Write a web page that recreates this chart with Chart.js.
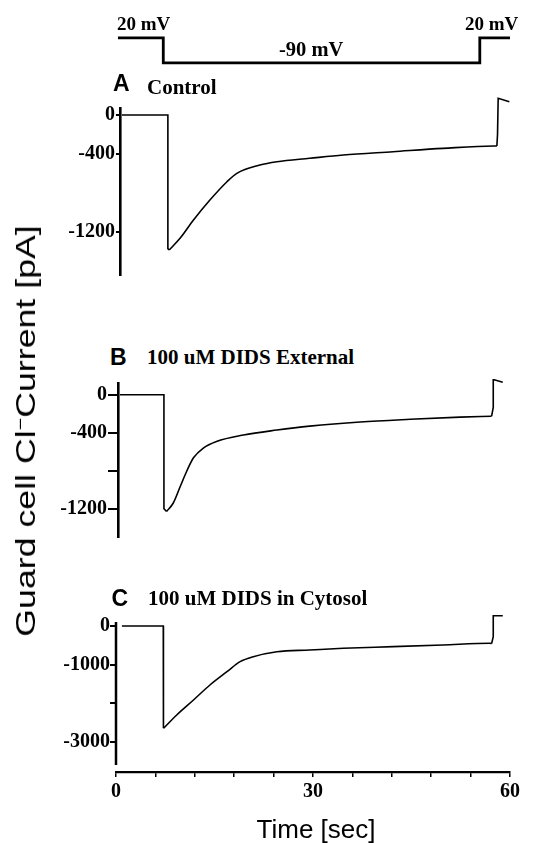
<!DOCTYPE html>
<html>
<head>
<meta charset="utf-8">
<script src="https://cdn.jsdelivr.net/npm/chart.js@4"></script>
<style>
html,body{margin:0;padding:0;background:#fff;}
#wrap{position:relative;width:543px;height:843px;overflow:hidden;background:#fff;}
canvas{position:absolute;left:0;}
.t{position:absolute;white-space:nowrap;color:#000;line-height:1;}
.serif{font-family:"Liberation Serif","Times New Roman",serif;font-weight:bold;}
.sans{font-family:"Liberation Sans",Arial,sans-serif;}
.sansb{font-family:"Liberation Sans",Arial,sans-serif;font-weight:bold;}
sup{font-size:0.6em;vertical-align:0.55em;line-height:0;}
</style>
</head>
<body>
<div id="wrap">
  <canvas id="cvV" width="543" height="100" style="top:0px"></canvas>
  <canvas id="cvA" width="543" height="195" style="top:95px"></canvas>
  <canvas id="cvB" width="543" height="180" style="top:370px"></canvas>
  <canvas id="cvC" width="543" height="233" style="top:610px"></canvas>

  <div class="t serif" style="left:117px;top:14px;font-size:19px;">20 mV</div>
  <div class="t serif" style="left:279px;top:38.5px;font-size:20.5px;">-90 mV</div>
  <div class="t serif" style="left:465px;top:14px;font-size:19px;">20 mV</div>

  <div class="t sansb" style="left:113px;top:71.5px;font-size:23px;">A</div>
  <div class="t serif" style="left:147px;top:76.5px;font-size:21px;">Control</div>
  <div class="t sansb" style="left:110px;top:345.5px;font-size:23px;">B</div>
  <div class="t serif" style="left:147px;top:346.5px;font-size:21px;">100 uM DIDS External</div>
  <div class="t sansb" style="left:111.5px;top:586.5px;font-size:23px;">C</div>
  <div class="t serif" style="left:148px;top:587.5px;font-size:21px;">100 uM DIDS in Cytosol</div>

  <div class="t sans" style="left:316px;top:816px;font-size:26px;transform:translateX(-50%);">Time [sec]</div>
  <div class="t sans" id="ylab" style="left:26px;top:431px;font-size:28px;">Guard cell Cl<sup>−</sup>Current [pA]</div>
</div>
<script>
// ---- Data ----
const protocolTime    = [0.3, 7.2, 7.2, 55.4, 55.4, 60.0];
const protocolVoltage = [20, 20, -90, -90, 20, 20];

const timeA    = [0.9, 7.9, 7.9, 8.1, 9.75, 11.8, 14.3, 16.9, 18.4, 21.9, 24.5, 29.5, 34.6, 42.2, 49.8, 57.5, 58.0, 58.1, 58.2, 59.9];
const currentA = [0, 0, -1370, -1385, -1265, -1077, -872, -684, -598, -513, -479, -444, -410, -376, -342, -318, -318, -200, 171, 136];

const timeB    = [0.6, 7.3, 7.3, 7.7, 8.7, 9.75, 10.8, 11.8, 13.3, 15.3, 19.4, 24.5, 29.5, 37.2, 44.8, 52.4, 57.2, 57.45, 57.45, 57.6, 58.9];
const currentB = [0, 0, -1200, -1228, -1142, -971, -800, -664, -561, -492, -424, -372, -331, -287, -259, -236, -226, -133, 157, 157, 130];

const timeC    = [0.9, 7.2, 7.2, 7.25, 9.25, 11.8, 14.3, 16.9, 18.9, 20.9, 24.5, 29.5, 34.6, 42.2, 49.8, 56.95, 57.2, 57.45, 57.45, 58.9];
const currentC = [0, 0, -2600, -2645, -2301, -1914, -1526, -1182, -923, -794, -665, -621, -577, -535, -491, -447, -455, -277, 266, 266];

const yTicksA = [0, -400, -1200];
const yLabelsA = ['0', '-400', '-1200'];
const yTicksB = [0, -400, -800, -1200];
const yLabelsB = ['0', '-400', '', '-1200'];
const yTicksC = [0, -1000, -2000, -3000];
const yLabelsC = ['0', '-1000', '', '-3000'];

const xLabelValues = [0, 30, 60];

// ---- Layout constants ----
const PX_PER_SEC = 6.567;   // shared time scale of all panels
const X_ORIGIN = 116;       // pixel of t = 0
const RIGHT_PAD = 33;       // -> chartArea.right = 510
const SERIF = '"Liberation Serif", "Times New Roman", serif';

// stretch the rotated y title to the reference length
(function () {
  const el = document.getElementById('ylab');
  const w = el.offsetWidth;
  const s = 412 / w;
  el.style.transform = 'translate(-50%,-50%) rotate(-90deg) scaleX(' + s + ')';
})();

const pts = (xs, ys, a, b) => xs.slice(a, b).map((x, i) => ({x: x, y: ys[a + i]}));

const yAxisLine = {
  id: 'yAxisLine',
  afterDraw(chart, args, opts) {
    if (!opts || opts.end === undefined) return;
    const ys = chart.scales.y, ca = chart.chartArea, ctx = chart.ctx;
    ctx.save();
    ctx.strokeStyle = '#000';
    ctx.lineWidth = 2.5;
    ctx.beginPath();
    ctx.moveTo(ca.left, ca.top);
    ctx.lineTo(ca.left, ys.getPixelForValue(opts.end));
    ctx.stroke();
    ctx.restore();
  }
};

function ds(data, width, smooth) {
  return {
    data: data,
    borderColor: '#000',
    borderWidth: width,
    pointRadius: 0,
    tension: smooth ? 0.4 : 0,
    cubicInterpolationMode: smooth ? 'monotone' : 'default',
    fill: false,
    clip: false
  };
}

// trace split into: step to peak (straight), decay (smooth), return step (straight)
function traceDatasets(xs, ys) {
  let peak = 0;
  ys.forEach((v, i) => { if (v < ys[peak]) peak = i; });
  let lastNeg = 0;
  ys.forEach((v, i) => { if (v < 0) lastNeg = i; });
  const decayEnd = lastNeg - 1;
  return [
    ds(pts(xs, ys, 0, peak + 1), 1.6, false),
    ds(pts(xs, ys, peak, decayEnd + 1), 1.6, true),
    ds(pts(xs, ys, decayEnd, xs.length), 1.6, false)
  ];
}

// Voltage protocol
new Chart(document.getElementById('cvV'), {
  type: 'line',
  data: { datasets: [ds(pts(protocolTime, protocolVoltage, 0, protocolTime.length), 2.8, false)] },
  options: {
    responsive: false, animation: false, devicePixelRatio: 1,
    layout: { autoPadding: false, padding: { left: X_ORIGIN, right: RIGHT_PAD, top: 30, bottom: 30 } },
    plugins: { legend: { display: false }, tooltip: { enabled: false } },
    scales: {
      x: { type: 'linear', min: 0, max: 60, display: false },
      y: { type: 'linear', min: -121, max: 55, display: false }
    }
  }
});

function panel(id, xs, ys, cfg) {
  const axisW = X_ORIGIN + cfg.xMin * PX_PER_SEC;
  return new Chart(document.getElementById(id), {
    type: 'line',
    data: { datasets: traceDatasets(xs, ys) },
    plugins: [yAxisLine],
    options: {
      responsive: false, animation: false, devicePixelRatio: 1,
      layout: { autoPadding: false, padding: { left: 0, right: RIGHT_PAD, top: cfg.padTop, bottom: cfg.padBottom } },
      plugins: {
        legend: { display: false }, tooltip: { enabled: false },
        yAxisLine: cfg.axisEnd !== undefined ? { end: cfg.axisEnd } : {}
      },
      scales: {
        x: cfg.showX ? {
          type: 'linear', min: cfg.xMin, max: 60, position: 'bottom',
          afterFit: s => { s.height = 50; },
          afterBuildTicks: s => { const t = []; for (let v = 0; v <= 60; v += 6) t.push({value: v}); s.ticks = t; },
          grid: { display: true, drawOnChartArea: false, drawTicks: true, tickLength: 5, color: '#000', lineWidth: 1.5 },
          border: { display: true, color: '#000', width: 2.2 },
          ticks: {
            autoSkip: false, maxRotation: 0, padding: 3, color: '#000',
            font: { family: SERIF, weight: 'bold', size: 20 },
            callback: v => xLabelValues.includes(v) ? String(v) : ''
          }
        } : { type: 'linear', min: cfg.xMin, max: 60, display: false },
        y: {
          type: 'linear', min: cfg.min, max: cfg.max, position: 'left',
          afterFit: s => { s.width = axisW; },
          afterBuildTicks: s => { s.ticks = cfg.ticks.map(v => ({value: v})); },
          grid: { display: true, drawOnChartArea: false, drawTicks: true, tickLength: cfg.tickLen, color: '#000', lineWidth: 2 },
          border: { display: cfg.axisEnd === undefined, color: '#000', width: 2.6 },
          ticks: {
            autoSkip: false, padding: cfg.tickPad, color: '#000',
            font: { family: SERIF, weight: 'bold', size: 20 },
            callback: (v, i) => cfg.labels[i]
          }
        }
      }
    }
  });
}

panel('cvA', timeA, currentA, { xMin: 0.6, padTop: 13, padBottom: 15, min: -1641, max: 72, ticks: yTicksA, labels: yLabelsA, tickLen: 4, tickPad: 1 });
panel('cvB', timeB, currentB, { xMin: 0.3, padTop: 10, padBottom: 12, min: -1497, max: 123, ticks: yTicksB, labels: yLabelsB, tickLen: 10, tickPad: 1 });
panel('cvC', timeC, currentC, { xMin: 0, padTop: 12, padBottom: 21, min: -3776, max: 103, ticks: yTicksC, labels: yLabelsC, tickLen: 6, tickPad: 0, showX: true, axisEnd: -3595 });
</script>
</body>
</html>
